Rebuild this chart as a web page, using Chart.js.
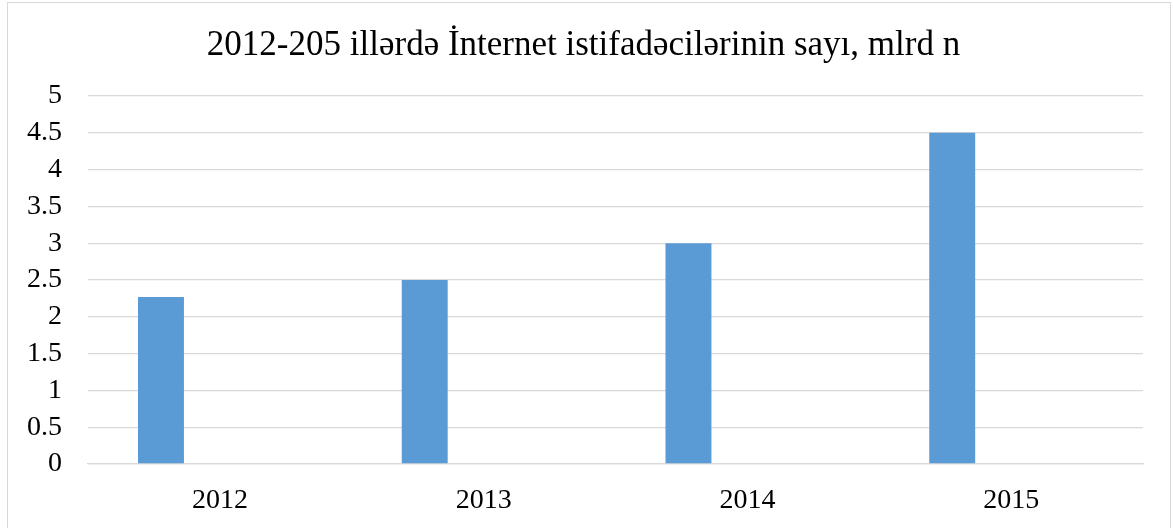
<!DOCTYPE html>
<html>
<head>
<meta charset="utf-8">
<script src="https://cdn.jsdelivr.net/npm/chart.js@4/dist/chart.umd.min.js"></script>
<style>
    html, body { margin: 0; padding: 0; background: #fff; overflow: hidden; }
    #wrap { position: relative; width: 1173px; height: 528px; overflow: hidden; }
    #frame { position: absolute; left: 7px; top: 2px; width: 1162px; height: 540px; border: 1.5px solid #d9d9d9; pointer-events: none; }
    canvas { position: absolute; left: 0; top: 0; }
</style>
</head>
<body>
<div id="wrap">
    <canvas id="usersChart" width="1173" height="528"></canvas>
    <div id="frame"></div>
</div>
<script>
// values
const years = ['2012', '2013', '2014', '2015'];
const users = [2.27, 2.5, 3.0, 4.5];   // mlrd
const emptySeries = [null, null, null, null]; // the two unused series next to each bar
const yTicks = [0, 0.5, 1, 1.5, 2, 2.5, 3, 3.5, 4, 4.5, 5];

document.addEventListener("DOMContentLoaded", function () {
    const chartCanvas = document.getElementById('usersChart');
    if (!chartCanvas) return;

    Chart.defaults.font.family = '"Liberation Serif", "Times New Roman", serif';
    Chart.defaults.color = '#000';

    const ctx = chartCanvas.getContext('2d');
    new Chart(ctx, {
        type: 'bar',
        data: {
            labels: years,
            datasets: [
                { label: 'Users', data: users, backgroundColor: '#5b9bd5' },
                { label: 'Series 2', data: emptySeries, backgroundColor: '#ed7d31' },
                { label: 'Series 3', data: emptySeries, backgroundColor: '#a5a5a5' }
            ]
        },
        options: {
            responsive: false,
            animation: false,
            categoryPercentage: 0.67,
            barPercentage: 0.78,
            layout: {
                // left padding nudges the centred title to the right
                padding: { left: 24, right: 30, top: 0, bottom: 0 }
            },
            plugins: {
                legend: { display: false },
                tooltip: { enabled: false },
                title: {
                    display: true,
                    text: '2012-205 illərdə İnternet istifadəcilərinin sayı, mlrd n',
                    font: { size: 35, weight: 'normal' },
                    color: '#000',
                    padding: { top: 25, bottom: 29 }
                }
            },
            scales: {
                x: {
                    grid: { display: false, drawTicks: false },
                    border: { display: true, color: '#d9d9d9', width: 1.3 },
                    ticks: { font: { size: 28 }, padding: 20 },
                    afterFit: function (scale) { scale.height = 64; }
                },
                y: {
                    min: 0,
                    max: 5,
                    afterBuildTicks: function (axis) {
                        axis.ticks = yTicks.map(v => ({ value: v }));
                    },
                    grid: { color: '#d9d9d9', lineWidth: 1.3, drawTicks: false },
                    border: { display: false },
                    ticks: {
                        font: { size: 28 },
                        padding: 26,
                        callback: function (v) { return String(v); }
                    },
                    afterFit: function (scale) { scale.width = 64; }
                }
            }
        }
    });
});
</script>
</body>
</html>
